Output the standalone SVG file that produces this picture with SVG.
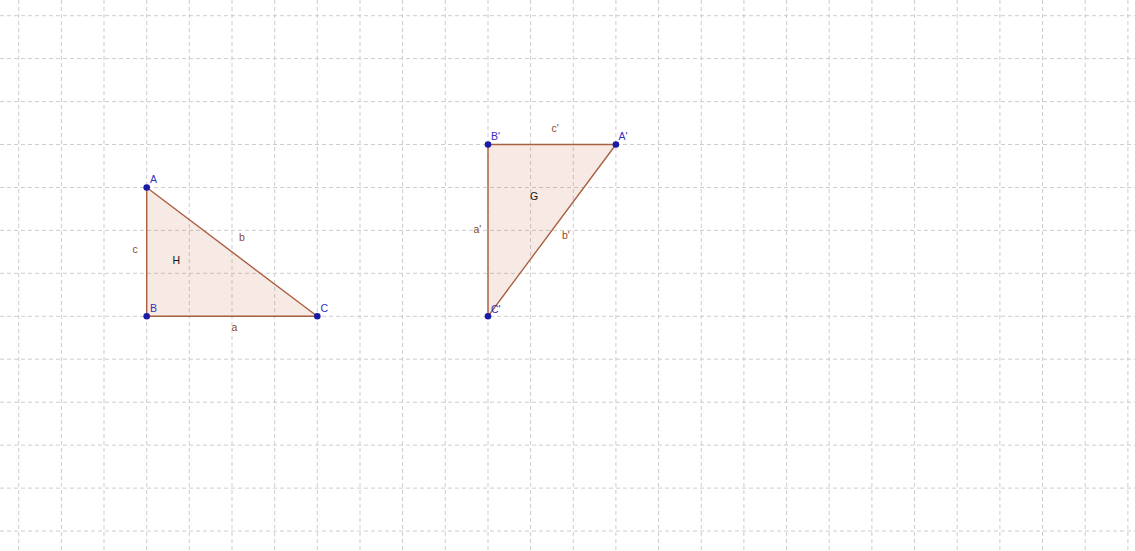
<svg xmlns="http://www.w3.org/2000/svg" width="1135" height="551" viewBox="0 0 1135 551">
<style>
.grid{stroke:#cdcdcd;stroke-width:1;stroke-dasharray:4 3;fill:none}
.tri{fill:#c25a32;fill-opacity:0.13;stroke:#a86040;stroke-width:1.4;stroke-linejoin:round}
.pt{fill:#1a1aa6}
.pl{font-family:"Liberation Sans",Arial,sans-serif;font-size:10.5px;fill:#3030c0}
.sl{font-family:"Liberation Sans",Arial,sans-serif;font-size:10.5px;fill:#8a4a2a}
.nl{font-family:"Liberation Sans",Arial,sans-serif;font-size:10.5px;fill:#111}
</style>
<rect width="1135" height="551" fill="#ffffff"/>
<g id="grid" class="grid">
<path d="M18.7 0V551M61.4 0V551M104 0V551M146.7 0V551M189.3 0V551M232 0V551M274.7 0V551M317.3 0V551M360 0V551M402.6 0V551M445.3 0V551M488 0V551M530.6 0V551M573.3 0V551M615.9 0V551M658.6 0V551M701.3 0V551M743.9 0V551M786.6 0V551M829.2 0V551M871.9 0V551M914.6 0V551M957.2 0V551M999.9 0V551M1042.5 0V551M1085.2 0V551M1127.9 0V551"/>
<path d="M0 15.7H1135M0 58.6H1135M0 101.6H1135M0 144.5H1135M0 187.5H1135M0 230.4H1135M0 273.3H1135M0 316.3H1135M0 359.2H1135M0 402.2H1135M0 445.1H1135M0 488.1H1135M0 531H1135"/>
</g>
<g id="triangleH">
<polygon class="tri" points="146.7,187.5 146.7,316.3 317.3,316.3"/>
<text class="nl" x="172.5" y="264">H</text>
<text class="sl" x="132.5" y="253">c</text>
<text class="sl" x="239" y="241">b</text>
<text class="sl" x="231.5" y="331">a</text>
</g>
<g id="triangleG">
<polygon class="tri" points="488,144.5 615.9,144.5 488,316.3"/>
<text class="nl" x="530" y="199.5">G</text>
<text class="sl" x="473.5" y="232.5">a'</text>
<text class="sl" x="562" y="239">b'</text>
<text class="sl" x="551.5" y="132">c'</text>
</g>
<g id="pointA"><circle class="pt" cx="146.7" cy="187.5" r="3.3"/><text class="pl" x="150" y="183">A</text></g>
<g id="pointB"><circle class="pt" cx="146.7" cy="316.3" r="3.3"/><text class="pl" x="150" y="312">B</text></g>
<g id="pointC"><circle class="pt" cx="317.3" cy="316.3" r="3.3"/><text class="pl" x="320.5" y="312">C</text></g>
<g id="pointB2"><circle class="pt" cx="488" cy="144.5" r="3.3"/><text class="pl" x="491" y="140">B'</text></g>
<g id="pointA2"><circle class="pt" cx="615.9" cy="144.5" r="3.3"/><text class="pl" x="618.5" y="140">A'</text></g>
<g id="pointC2"><circle class="pt" cx="488" cy="316.3" r="3.3"/><text class="pl" x="491" y="312.5">C'</text></g>
</svg>
